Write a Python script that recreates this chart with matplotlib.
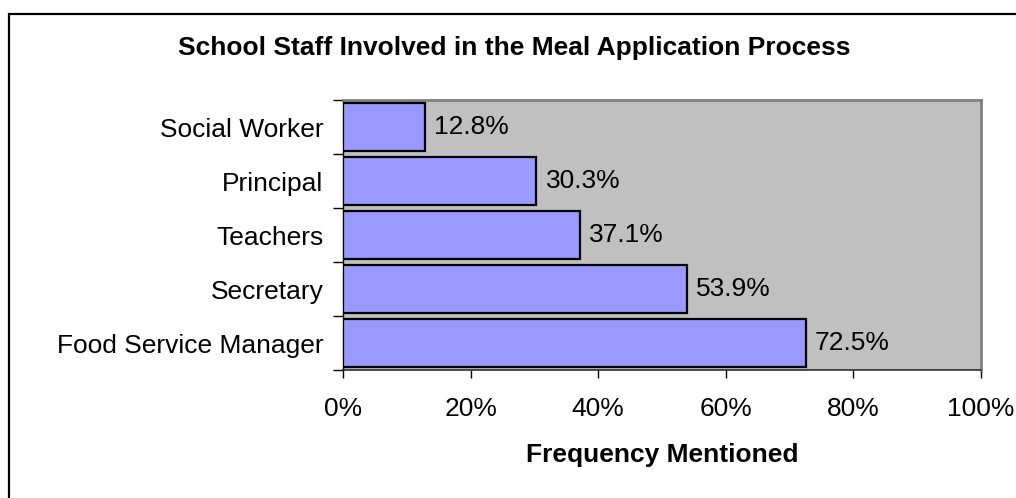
import numpy as np
import matplotlib.pyplot as plt
from matplotlib.patches import Rectangle
from matplotlib.ticker import FixedLocator, PercentFormatter

categories = ['Food Service Manager', 'Secretary', 'Teachers', 'Principal', 'Social Worker']
values = [72.5, 53.9, 37.1, 30.3, 12.8]
xticks = [0, 20, 40, 60, 80, 100]

plt.rcParams['font.family'] = ['Liberation Sans', 'DejaVu Sans']

W, H = 1016, 498
fig = plt.figure(figsize=(W / 100, H / 100), dpi=100)

# outer frame (runs off the right and bottom edges)
fig.patches.append(Rectangle((9 / W, -0.1), 1.2, 1 - 14 / H + 0.1, transform=fig.transFigure,
                             fill=False, edgecolor='black', linewidth=1.6, zorder=0))

ax = fig.add_axes([343 / W, 1 - 370 / H, (981 - 343) / W, (370 - 100) / H])
ax.set_facecolor('#C0C0C0')

y = np.arange(len(categories))
ax.barh(y, values, height=0.9, color='#9999FF', edgecolor='black', linewidth=1.6, zorder=3)

for yi, v in zip(y, values):
    ax.text(v + 1.5, yi, f'{v:.1f}%', va='center', ha='left', fontsize=19, zorder=4)

ax.set_xlim(0, 100)
ax.set_ylim(-0.5, len(categories) - 0.5)

ax.set_xticks(xticks)
ax.xaxis.set_major_formatter(PercentFormatter(decimals=0))
ax.set_yticks(y)
ax.set_yticklabels(categories)
ax.yaxis.set_minor_locator(FixedLocator(np.arange(-0.5, len(categories), 1.0)))

ax.tick_params(axis='y', which='major', length=0, pad=14, labelsize=19)
ax.tick_params(axis='y', which='minor', length=7, width=1, direction='out', color='black')
ax.tick_params(axis='x', which='major', length=6, width=1, direction='out', pad=13.5, labelsize=19, color='black')

for side in ['top', 'right']:
    ax.spines[side].set_color('#808080')
    ax.spines[side].set_linewidth(2)
ax.spines['left'].set_color('black')
ax.spines['bottom'].set_color('#303030')
ax.spines['left'].set_linewidth(1)
ax.spines['bottom'].set_linewidth(1.2)

ax.set_xlabel('Frequency Mentioned', fontsize=19, fontweight='bold', labelpad=16)
fig.text(514 / W, 1 - 48 / H, 'School Staff Involved in the Meal Application Process',
         ha='center', va='center', fontsize=19, fontweight='bold')

fig.savefig('out.png', dpi=100)
